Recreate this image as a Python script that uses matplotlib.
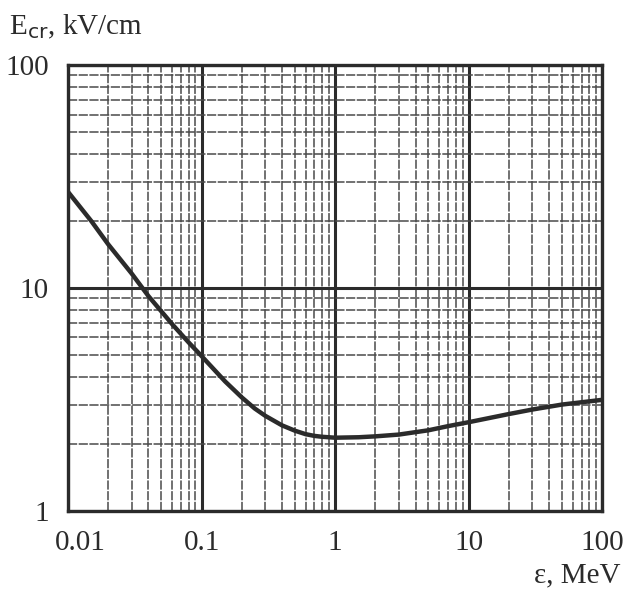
import numpy as np
import matplotlib.pyplot as plt
import matplotlib.transforms as mtransforms
from matplotlib.ticker import LogLocator, NullFormatter, FixedLocator, FixedFormatter

# values
energy = [0.01, 0.015, 0.02, 0.03, 0.04, 0.06, 0.08, 0.1, 0.12, 0.15, 0.2, 0.25,
          0.3, 0.4, 0.5, 0.6, 0.7, 0.8, 1, 1.5, 2, 3, 5, 7, 10, 20, 30, 50, 100]
e_cr = [27, 19.9, 15.7, 11.6, 9.2, 6.9, 5.7, 4.95, 4.4, 3.81, 3.23, 2.88,
        2.67, 2.42, 2.29, 2.21, 2.17, 2.15, 2.13, 2.14, 2.16, 2.2, 2.3, 2.4,
        2.5, 2.72, 2.85, 3.0, 3.15]
x_ticks = [0.01, 0.1, 1, 10, 100]
x_labels = ['0.01', '0.1', '1', '10', '100']
y_ticks = [1, 10, 100]
y_labels = ['1', '10', '100']

plt.rcParams['font.family'] = ['Liberation Serif', 'DejaVu Serif']
ink = '#2b2b2b'

fig = plt.figure(figsize=(6.27, 5.92), dpi=100)
ax = fig.add_axes([0.1085, 0.137, 0.852, 0.753])
ax.set_xscale('log')
ax.set_yscale('log')
ax.set_xlim(0.01, 100)
ax.set_ylim(1, 100)

# graph-paper grid
ax.xaxis.set_minor_locator(LogLocator(base=10, subs=np.arange(2, 10)))
ax.yaxis.set_minor_locator(LogLocator(base=10, subs=np.arange(2, 10)))
ax.xaxis.set_minor_formatter(NullFormatter())
ax.yaxis.set_minor_formatter(NullFormatter())
ax.grid(True, which='minor', color='#4a4a4a', lw=1.1, ls=(0, (6, 1)))
ax.grid(True, which='major', color=ink, lw=2.2)

ax.plot(energy, e_cr, color=ink, lw=3.2, solid_capstyle='round',
        solid_joinstyle='round', zorder=5)

ax.xaxis.set_major_locator(FixedLocator(x_ticks))
ax.xaxis.set_major_formatter(FixedFormatter(x_labels))
ax.yaxis.set_major_locator(FixedLocator(y_ticks))
ax.yaxis.set_major_formatter(FixedFormatter(y_labels))
ax.tick_params(which='both', length=0, labelsize=21, colors=ink)
ax.tick_params(axis='x', pad=14)
ax.tick_params(axis='y', pad=14)

# first x label sits a bit to the right so it clears the "1"
fig.canvas.draw()
first = ax.get_xticklabels()[0]
first.set_transform(first.get_transform() +
                    mtransforms.ScaledTranslation(12 / 100, 0, fig.dpi_scale_trans))

for s in ax.spines.values():
    s.set_color(ink)
    s.set_linewidth(2.4)

fig.text(0.015, 0.955, r'E$_{\rm cr}$, kV/cm', fontsize=21, color=ink, va='center')
fig.text(0.99, 0.028, 'ε, MeV', fontsize=21, color=ink, ha='right', va='center')

fig.savefig('out.png', dpi=100)
